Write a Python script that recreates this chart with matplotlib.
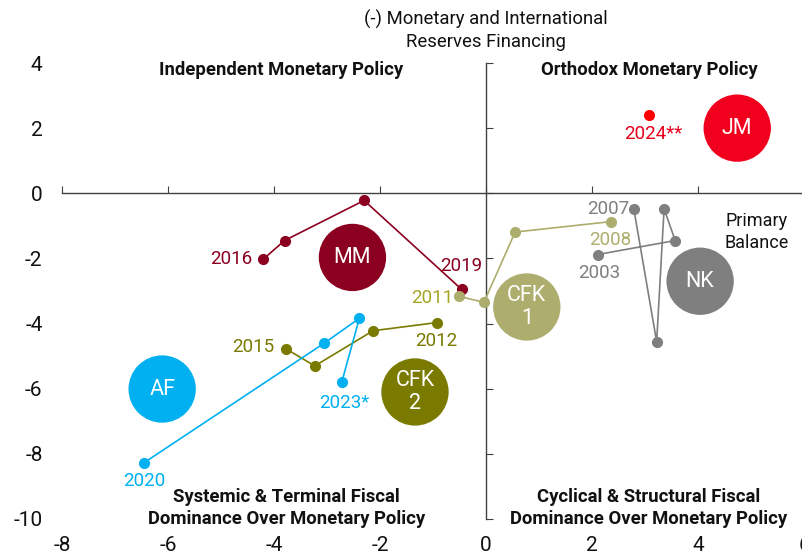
import numpy as np
import matplotlib.pyplot as plt

plt.rcParams['font.family'] = ['Roboto', 'DejaVu Sans']
plt.rcParams['axes.unicode_minus'] = False

# trayectorias anuales (x: financiamiento monetario, y: resultado primario)
mm_x = [-4.2, -3.8, -2.3, -0.46]
mm_y = [-2.02, -1.45, -0.22, -2.95]
cfk1_x = [2.36, 0.55, -0.04, -0.51]
cfk1_y = [-0.87, -1.19, -3.35, -3.16]
cfk2_x = [-0.93, -2.13, -3.23, -3.78]
cfk2_y = [-3.97, -4.22, -5.30, -4.77]
af_x = [-6.45, -3.06, -2.39, -2.72]
af_y = [-8.27, -4.61, -3.84, -5.79]
nk_x = [2.11, 3.57, 3.36, 3.22, 2.79]
nk_y = [-1.88, -1.45, -0.48, -4.56, -0.49]
jm_x = [3.08]
jm_y = [2.39]

# burbujas (promedio de cada gobierno)
bub_names = ['MM', 'CFK\n1', 'CFK\n2', 'AF', 'NK', 'JM']
bub_x = [-2.52, 0.77, -1.34, -6.11, 4.04, 4.74]
bub_y = [-1.97, -3.49, -6.10, -6.01, -2.70, 2.0]
bub_col = ['#8B0020', '#ADAD6D', '#7A7A00', '#00B0F0', '#7F7F7F', '#F0001C']

xticks = [-8, -6, -4, -2, 0, 2, 4, 6]
yticks = [-10, -8, -6, -4, -2, 0, 2, 4]

fig = plt.figure(figsize=(8.02, 5.56), dpi=100)
pos = [62/802, 1-519/556, (804-62)/802, (519-63)/556]
ax = fig.add_axes(pos)
ax.set_xlim(-8, 6)
ax.set_ylim(-10, 4)
ax.set_xticks(xticks)
ax.set_yticks(yticks)
for s in ['top', 'right']:
    ax.spines[s].set_visible(False)
ax.spines['left'].set_position(('data', 0))
ax.spines['bottom'].set_position(('data', 0))
for s in ['left', 'bottom']:
    ax.spines[s].set_color('#404040')
    ax.spines[s].set_linewidth(1.0)
ax.tick_params(direction='in', length=5, color='#404040',
               labelleft=False, labelbottom=False)

# etiquetas de ejes abajo/izquierda
ax2 = fig.add_axes(pos, sharex=ax, sharey=ax)
ax2.set_frame_on(False)
ax2.tick_params(length=0, labelsize=15, pad=14, colors='#111111')
ax2.set_xticklabels([str(t) for t in xticks])
ax2.set_yticklabels([str(t) for t in yticks])
ax2.tick_params(axis='x', pad=12)

ms = 7
lw = 1.2
ax.plot(mm_x, mm_y, '-o', color='#8B0020', ms=ms, lw=lw, zorder=3)
ax.plot(cfk1_x, cfk1_y, '-o', color='#ADAD6D', ms=ms, lw=lw, zorder=3)
ax.plot(cfk2_x, cfk2_y, '-o', color='#7A7A00', ms=ms, lw=lw, zorder=3)
ax.plot(af_x, af_y, '-o', color='#00B0F0', ms=ms, lw=lw, zorder=3)
ax.plot(nk_x, nk_y, '-o', color='#7F7F7F', ms=ms, lw=lw, zorder=3)
ax.plot(jm_x, jm_y, 'o', color='#FF0000', ms=ms, zorder=3)

ax.scatter(bub_x, bub_y, s=2350, c=bub_col, zorder=4, linewidths=0)
for n, x, y in zip(bub_names, bub_x, bub_y):
    ax.text(x, y, n, ha='center', va='center', color='white',
            fontsize=15.5, zorder=5, linespacing=1.15)

# anios
lab = dict(fontsize=13.5, textcoords='offset points', zorder=5)
ax.annotate('2016', (mm_x[0], mm_y[0]), xytext=(-8, 0), ha='right', va='center', color='#8B0020', **lab)
ax.annotate('2019', (mm_x[-1], mm_y[-1]), xytext=(0, 10), ha='center', va='bottom', color='#8B0020', **lab)
ax.annotate('2008', (cfk1_x[0], cfk1_y[0]), xytext=(-1, -7), ha='center', va='top', color='#ADAD6D', **lab)
ax.annotate('2011', (cfk1_x[-1], cfk1_y[-1]), xytext=(-4, -1), ha='right', va='center', color='#A6A626', **lab)
ax.annotate('2012', (cfk2_x[0], cfk2_y[0]), xytext=(0, -7), ha='center', va='top', color='#7A7A00', **lab)
ax.annotate('2015', (cfk2_x[-1], cfk2_y[-1]), xytext=(-8, 1), ha='right', va='center', color='#7A7A00', **lab)
ax.annotate('2020', (af_x[0], af_y[0]), xytext=(0, -7), ha='center', va='top', color='#00B0F0', **lab)
ax.annotate('2023*', (af_x[-1], af_y[-1]), xytext=(2, -9), ha='center', va='top', color='#00B0F0', **lab)
ax.annotate('2003', (nk_x[0], nk_y[0]), xytext=(1, -7), ha='center', va='top', color='#7F7F7F', **lab)
ax.annotate('2007', (nk_x[-1], nk_y[-1]), xytext=(-3, 0), ha='right', va='center', color='#7F7F7F', **lab)
ax.annotate('2024**', (jm_x[0], jm_y[0]), xytext=(3, -7), ha='center', va='top', color='#E8001C', **lab)

# cuadrantes
qk = dict(fontsize=13.3, fontweight='bold', ha='center', va='center', color='#111111')
ax.text(-3.87, 3.77, 'Independent Monetary Policy', **qk)
ax.text(3.09, 3.77, 'Orthodox Monetary Policy', **qk)
ax.text(-3.77, -9.66, 'Systemic & Terminal Fiscal\nDominance Over Monetary Policy', linespacing=1.3, **qk)
ax.text(3.06, -9.66, 'Cyclical & Structural Fiscal\nDominance Over Monetary Policy', linespacing=1.3, **qk)

ax.text(0, 5.0, '(-) Monetary and International\nReserves Financing', ha='center', va='center',
        fontsize=13.3, color='#111111', linespacing=1.3, clip_on=False)
ax.text(5.11, -1.18, 'Primary\nBalance', ha='center', va='center', fontsize=13,
        color='#111111', linespacing=1.3)

fig.savefig('out.png', dpi=100)
